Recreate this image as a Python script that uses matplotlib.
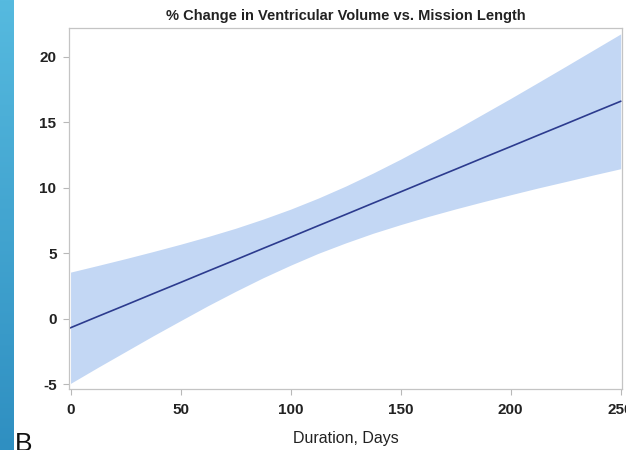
import numpy as np
import matplotlib
matplotlib.use("Agg")
import matplotlib.pyplot as plt
from matplotlib.colors import LinearSegmentedColormap

plt.rcParams['font.family'] = ['Liberation Sans', 'DejaVu Sans']

# Mission duration (days), fitted % change and its 95% confidence band
duration = [0, 12.5, 25, 37.5, 50, 62.5, 75, 87.5, 100, 112.5, 125,
            137.5, 150, 162.5, 175, 187.5, 200, 212.5, 225, 237.5, 250]
fit = [-0.70, 0.17, 1.03, 1.90, 2.76, 3.63, 4.49, 5.36, 6.22, 7.09, 7.95,
       8.82, 9.68, 10.55, 11.41, 12.28, 13.14, 14.01, 14.87, 15.74, 16.60]
upper = [3.55, 4.06, 4.58, 5.12, 5.68, 6.27, 6.90, 7.60, 8.36, 9.20, 10.12,
         11.12, 12.18, 13.30, 14.44, 15.63, 16.82, 18.04, 19.27, 20.51, 21.75]
lower = [-4.95, -3.72, -2.52, -1.32, -0.16, 0.99, 2.08, 3.12, 4.08, 4.98, 5.78,
         6.52, 7.18, 7.80, 8.38, 8.93, 9.46, 9.98, 10.47, 10.97, 11.45]

x_ticks = [0, 50, 100, 150, 200, 250]
y_ticks = [-5, 0, 5, 10, 15, 20]

fig = plt.figure(figsize=(6.26, 4.5), dpi=100)

# Decorative gradient strip along the left edge
strip = fig.add_axes([0, 0, 14 / 626, 1])
grad = np.linspace(0, 1, 256).reshape(-1, 1)
cmap = LinearSegmentedColormap.from_list("strip", ["#56badf", "#2f8fc1"])
strip.imshow(grad, aspect="auto", cmap=cmap, extent=[0, 1, 0, 1], origin="upper")
strip.set_axis_off()

ax = fig.add_axes([69 / 626, 61 / 450, 553 / 626, 361 / 450])
ax.fill_between(duration, lower, upper, color="#c3d7f4", linewidth=0)
ax.plot(duration, fit, color="#2c3b8e", linewidth=1.2)

ax.set_xlim(-0.7, 250.6)
ax.set_ylim(-5.38, 22.2)
ax.set_xticks(x_ticks)
ax.set_yticks(y_ticks)
ax.set_xticklabels([str(v) for v in x_ticks], fontsize=11, fontweight="bold", color="#222222")
ax.set_yticklabels([str(v) for v in y_ticks], fontsize=11, fontweight="bold", color="#222222")
ax.tick_params(direction="out", length=4, width=0.8, color="#b8b8b8")
ax.tick_params(axis="x", pad=6)
ax.tick_params(axis="y", pad=5)
for s in ax.spines.values():
    s.set_color("#c4c4c4")
    s.set_linewidth(0.9)

ax.set_xlabel("Duration, Days", fontsize=11.5, color="#222222", labelpad=10)
ax.set_title("% Change in Ventricular Volume vs. Mission Length",
             fontsize=10.5, fontweight="bold", color="#222222", pad=6)

fig.text(15 / 626, -6 / 450, "B", fontsize=19, color="#111111", ha="left", va="bottom")

fig.savefig("out.png", dpi=100, facecolor="white")
